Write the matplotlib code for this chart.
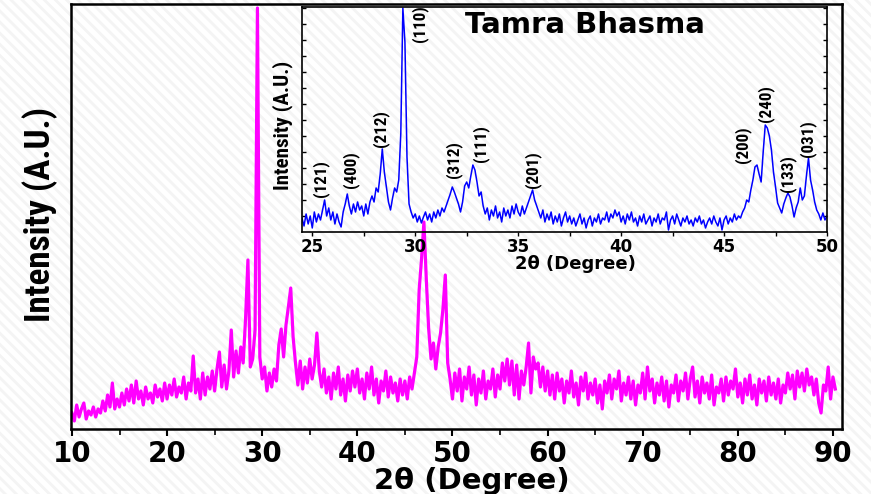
import numpy as np
import matplotlib
matplotlib.use('Agg')
import matplotlib.pyplot as plt
from matplotlib.patches import Rectangle
from matplotlib import font_manager

# main pattern, 2theta from 10 to 90.25 every 0.25 deg (intensity, a.u.)
main_start = 10.0
main_step = 0.25
main_int = [
    16, 8, 24, 12, 20, 26, 10, 18, 14, 22, 12, 20, 16, 28, 18, 34, 22, 46, 20, 30,      # 10-14.75
    22, 36, 24, 40, 28, 44, 26, 48, 30, 38, 24, 42, 30, 36, 26, 44, 32, 40, 28, 46,      # 15-19.75
    30, 44, 34, 50, 32, 42, 36, 52, 30, 46, 38, 73, 36, 50, 30, 56, 34, 52, 40, 58,      # 20-24.75
    38, 60, 77, 42, 64, 40, 58, 99, 52, 78, 56, 82, 66, 110, 169, 62, 70, 99, 421, 72,   # 25-29.75
    50, 62, 38, 56, 42, 60, 48, 84, 100, 72, 104, 122, 141, 92, 66, 44, 68, 40, 62, 46,  # 30-34.75
    70, 50, 64, 96, 58, 42, 60, 36, 52, 30, 56, 40, 62, 34, 50, 28, 54, 38, 58, 42,      # 35-39.75
    60, 36, 50, 30, 56, 40, 62, 34, 50, 26, 48, 38, 58, 32, 52, 36, 46, 28, 50, 34,      # 40-44.75
    48, 30, 52, 40, 56, 72, 139, 170, 207, 150, 100, 70, 86, 60, 82, 96, 120, 154, 66, 50,  # 45-49.75
    30, 56, 38, 60, 28, 52, 40, 62, 34, 54, 24, 50, 36, 58, 30, 48, 40, 60, 32, 54,      # 50-54.75
    40, 66, 48, 70, 44, 68, 34, 64, 30, 58, 44, 62, 86, 36, 72, 60, 66, 42, 62, 38,      # 55-59.75
    58, 34, 54, 30, 56, 38, 50, 26, 48, 36, 58, 32, 46, 24, 52, 38, 56, 30, 46, 34,      # 60-64.75
    50, 26, 44, 20, 48, 36, 54, 30, 50, 40, 58, 28, 46, 34, 52, 30, 48, 24, 44, 36,      # 65-69.75
    56, 30, 62, 38, 50, 26, 46, 34, 52, 28, 48, 22, 44, 36, 54, 28, 48, 38, 56, 30,      # 70-74.75
    50, 62, 32, 48, 26, 52, 36, 46, 30, 54, 24, 42, 36, 50, 28, 52, 34, 48, 40, 60,      # 75-79.75
    32, 46, 26, 50, 34, 54, 30, 44, 24, 50, 36, 48, 28, 52, 34, 46, 30, 50, 26, 44,      # 80-84.75
    36, 56, 40, 54, 30, 58, 42, 56, 38, 60, 44, 52, 34, 50, 26, 16, 44, 38, 62, 30,      # 85-89.75
    52, 40,                                                                              # 90-90.25
]

# inset pattern, 2theta from 24.5 to 50 every 0.1 deg
ins_start = 24.5
ins_step = 0.1
ins_int = [
    14, 6, 18, 8, 16, 4, 20, 10, 18, 12,
    22, 32, 16, 24, 12, 20, 8, 18, 10, 5,
    20, 28, 38, 26, 18, 28, 20, 30, 22, 26,
    16, 28, 18, 30, 36, 30, 44, 40, 58, 83,
    60, 45, 30, 22, 34, 44, 40, 52, 99, 224,
    190, 75, 28, 20, 14, 18, 10, 16, 9, 15,
    20, 12, 18, 10, 20, 14, 22, 16, 24, 20,
    26, 32, 38, 45, 40, 34, 28, 20, 30, 46,
    50, 44, 56, 67, 62, 50, 36, 40, 26, 18,
    24, 12, 22, 16, 26, 14, 20, 10, 24, 16,
    22, 14, 26, 18, 28, 20, 16, 26, 18, 24,
    30, 36, 42, 32, 26, 20, 14, 22, 10, 18,
    12, 20, 8, 16, 10, 18, 6, 14, 20, 10,
    16, 8, 14, 6, 12, 18, 8, 14, 4, 12,
    16, 6, 14, 10, 18, 8, 14, 12, 20, 10,
    18, 14, 22, 16, 20, 10, 16, 8, 18, 12,
    20, 10, 14, 6, 16, 10, 18, 8, 12, 16,
    6, 14, 10, 18, 8, 14, 12, 20, 2, 12,
    16, 8, 18, 12, 6, 14, 10, 16, 8, 12,
    6, 14, 10, 16, 8, 12, 4, 10, 14, 8,
    16, 10, 6, 14, 2, 12, 16, 8, 14, 10,
    18, 12, 16, 14, 20, 24, 32, 30, 42, 52,
    65, 67, 58, 50, 80, 107, 104, 96, 82, 60,
    45, 29, 24, 19, 28, 34, 39, 35, 26, 15,
    24, 30, 44, 32, 36, 56, 74, 52, 42, 30,
    22, 18, 12, 19, 12, 16,
]

# peak labels (hkl), position and where the text starts
hkl = ['(121)', '(400)', '(212)', '(312)', '(111)', '(201)', '(200)', '(240)', '(133)', '(031)']
hkl_x = [25.4, 26.85, 28.3, 31.85, 33.15, 35.7, 45.9, 47.0, 48.1, 49.05]
hkl_y = [35, 44, 85, 54, 70, 44, 69, 110, 40, 75]

main_ticks = [10, 20, 30, 40, 50, 60, 70, 80, 90]
ins_ticks = [25, 30, 35, 40, 45, 50]

plt.rcParams['font.family'] = 'DejaVu Sans'
plt.rcParams['font.weight'] = 'bold'
plt.rcParams['hatch.linewidth'] = 2.0
plt.rcParams['hatch.color'] = '#f4f4f4'

# a narrow face for the upright labels, if one is installed
have = {f.name for f in font_manager.fontManager.ttflist}
narrow = [n for n in ['Liberation Sans Narrow', 'Roboto Condensed', 'Open Sans Condensed',
                      'DejaVu Sans Condensed', 'Liberation Sans'] if n in have]

fig = plt.figure(figsize=(8.71, 4.94), dpi=100)
fig.patch.set_facecolor('white')
bg = Rectangle((0, 0), 1, 1, transform=fig.transFigure, facecolor='white',
               edgecolor='#f4f4f4', hatch='\\\\\\', lw=0, zorder=-5)
fig.patches.append(bg)

# main axes
ax = fig.add_axes([0.0815, 0.1316, 0.8852, 0.8603])
ax.set_facecolor('none')
tt = main_start + main_step * np.arange(len(main_int))
ax.plot(tt, main_int, color='#ff00ff', lw=2.3)
ax.set_xlim(9.9, 90.95)
ax.set_ylim(0, 425)
ax.set_yticks([])
ax.set_xticks(main_ticks)
ax.set_xticklabels([str(t) for t in main_ticks])
ax.set_xticks([15, 25, 35, 45, 55, 65, 75, 85], minor=True)
ax.tick_params(axis='x', which='major', direction='out', length=5, width=1.5,
               labelsize=20, pad=3)
ax.tick_params(axis='x', which='minor', direction='out', length=4, width=1.2)
for s in ax.spines.values():
    s.set_linewidth(1.8)

ylab = fig.text(40 / 871, 1 - 214 / 494, 'Intensity (A.U.)', rotation=90, ha='center',
                va='center', fontsize=24, fontweight='bold', family=narrow)
fig.text(472 / 871, 1 - 481 / 494, '2\u03b8 (Degree)', ha='center', va='center',
         fontsize=21, fontweight='bold')

# inset
ins = fig.add_axes([0.3467, 0.5304, 0.6028, 0.4554])
ins.set_facecolor('none')
t2 = ins_start + ins_step * np.arange(len(ins_int))
ins.plot(t2, ins_int, color='#0000ff', lw=1.1)
ins.set_xlim(24.5, 50)
ins.set_ylim(0, 225)
ins.set_xticks(ins_ticks)
ins.set_xticklabels([str(t) for t in ins_ticks])
ins.set_xticks([27.5, 32.5, 37.5, 42.5, 47.5], minor=True)
ins.set_yticks(np.arange(16, 225, 16))
ins.set_yticklabels([])
ins.tick_params(axis='x', which='both', direction='out', length=3, width=1, labelsize=12, pad=1)
ins.tick_params(axis='y', direction='in', length=3, width=1, left=True, right=True)
for s in ins.spines.values():
    s.set_linewidth(1.2)
fig.text(575 / 871, 1 - 264 / 494, '2\u03b8 (Degree)', ha='center', va='center',
         fontsize=13, fontweight='bold')

ylab2 = fig.text(283 / 871, 1 - 125 / 494, 'Intensity (A.U.)', rotation=90, ha='center',
                 va='center', fontsize=14, fontweight='bold', family=narrow)
fig.text(585 / 871, 1 - 25 / 494, 'Tamra Bhasma', ha='center', va='center',
         fontsize=21, fontweight='bold')

tags = []
for lab, x, y in zip(hkl, hkl_x, hkl_y):
    tags.append(ins.text(x, y, lab, rotation=90, ha='center', va='bottom', fontsize=13,
                         fontweight='bold', family=narrow))
tags.append(ins.text(30.23, 227, '(110)', rotation=90, ha='center', va='top', fontsize=13,
                     fontweight='bold', family=narrow, clip_on=False))

# size the upright labels so their length matches the picture
fig.canvas.draw()
rend = fig.canvas.get_renderer()


def fit(txt, length):
    h = txt.get_window_extent(rend).height
    txt.set_fontsize(txt.get_fontsize() * length / h)


fit(ylab, 216)
fit(ylab2, 129)
h0 = tags[0].get_window_extent(rend).height
for t in tags:
    t.set_fontsize(t.get_fontsize() * 37 / h0)

fig.savefig('out.png', dpi=100)
